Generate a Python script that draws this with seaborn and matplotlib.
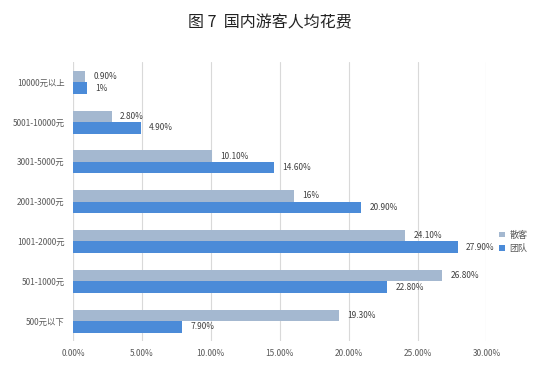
import matplotlib
matplotlib.use("Agg")
import matplotlib.pyplot as plt
import seaborn as sns
import pandas as pd
from matplotlib.patches import Patch

categories = ["10000元以上", "5001-10000元", "3001-5000元", "2001-3000元", "1001-2000元", "501-1000元", "500元以下"]
series = ["散客", "团队"]
sanke = [0.90, 2.80, 10.10, 16.0, 24.10, 26.80, 19.30]
tuandui = [1.0, 4.90, 14.60, 20.90, 27.90, 22.80, 7.90]
sanke_labels = ["0.90%", "2.80%", "10.10%", "16%", "24.10%", "26.80%", "19.30%"]
tuandui_labels = ["1%", "4.90%", "14.60%", "20.90%", "27.90%", "22.80%", "7.90%"]
xticks = [0, 5, 10, 15, 20, 25, 30]
xtick_labels = ["0.00%", "5.00%", "10.00%", "15.00%", "20.00%", "25.00%", "30.00%"]

sns.set_theme(style="white")
plt.rcParams['font.family'] = ['Noto Sans CJK SC', 'DejaVu Sans']

df = pd.DataFrame({
    "cat": categories * 2,
    "series": [series[0]] * len(categories) + [series[1]] * len(categories),
    "val": sanke + tuandui,
})

colors = ["#a4b8d0", "#4b8bd8"]
fig = plt.figure(figsize=(5.55, 3.78), dpi=100)
ax = fig.add_axes([0.1315, 0.098, 0.745, 0.737])
sns.barplot(data=df, y="cat", x="val", hue="series", order=categories, hue_order=series,
            palette=colors, orient="h", width=0.58, ax=ax, legend=False,
            edgecolor="none", saturation=1)

ax.set_xlim(0, 30)
ax.set_ylim(6.5, -0.5)
ax.set_xticks(xticks)
ax.set_xticklabels(xtick_labels)
ax.xaxis.grid(True, color="#d9d9d9", linewidth=0.8)
ax.set_axisbelow(True)
for s in ax.spines.values():
    s.set_visible(False)
ax.axvline(0, color="#d9d9d9", linewidth=0.8, zorder=0)
ax.tick_params(axis="both", length=0, labelsize=6, colors="#595959", pad=6)
ax.set_xlabel("")
ax.set_ylabel("")

for cont, labs in zip(ax.containers, [sanke_labels, tuandui_labels]):
    ax.bar_label(cont, labels=labs, padding=6, fontsize=6, color="#404040")

handles = [Patch(facecolor=c, edgecolor="none", label=l) for c, l in zip(colors, series)]
fig.legend(handles=handles, loc="center left", bbox_to_anchor=(0.885, 0.36), frameon=False,
           fontsize=6.5, handlelength=0.6, handleheight=0.6, handletextpad=0.5, labelcolor="#595959")

fig.text(0.487, 0.94, "图 7  国内游客人均花费", ha="center", va="center", fontsize=11.5, color="#222222")

fig.savefig("out.png", dpi=100)
